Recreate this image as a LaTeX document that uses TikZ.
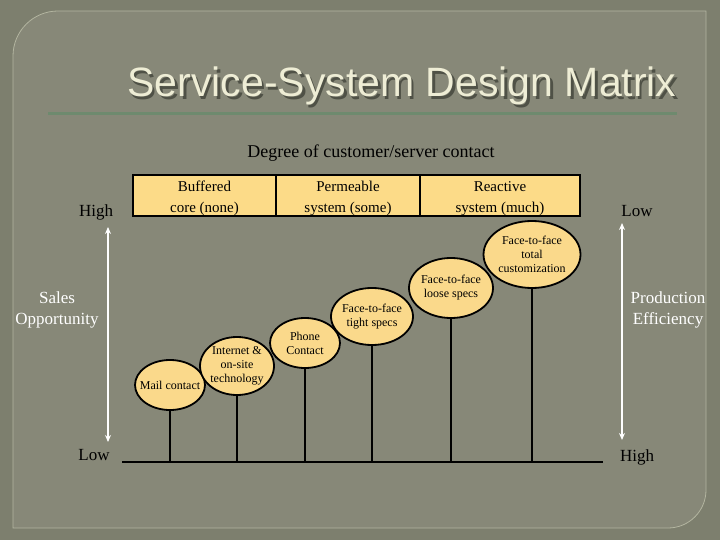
\documentclass[tikz,border=0pt]{standalone}
\usepackage{fontspec}
\setmainfont{Liberation Serif}
\newfontfamily\titlefont{Liberation Sans}
\usetikzlibrary{shapes.geometric,arrows.meta}
\definecolor{outerbg}{HTML}{7D7F6E}
\definecolor{panelbg}{HTML}{878878}
\definecolor{panelline}{HTML}{B3B5A0}
\definecolor{rulegreen}{HTML}{6E8A6E}
\definecolor{cream}{HTML}{EEEDD5}
\definecolor{shadowc}{HTML}{4F5146}
\definecolor{boxfill}{HTML}{FCDB88}
\definecolor{ovalfill}{HTML}{FAD98B}
\begin{document}
\begin{tikzpicture}[x=1pt,y=-1pt,
  cell/.style={draw=black,line width=2.2pt,fill=boxfill,rectangle,inner sep=0pt,minimum height=41pt},
  celltext/.style={align=center,font=\fontsize{15}{21}\selectfont,inner sep=0pt},
  oval/.style={draw=black,line width=1.8pt,fill=ovalfill,ellipse,inner sep=0pt},
  ovaltext/.style={align=center,font=\fontsize{12}{14}\selectfont,inner sep=0pt},
  stem/.style={draw=black,line width=2pt},
  axislabel/.style={font=\fontsize{17}{21}\selectfont,inner sep=0pt,anchor=base},
  sidelabel/.style={font=\fontsize{17}{21}\selectfont,text=white,align=center,inner sep=0pt},
  scalearrow/.style={draw=white,line width=1.6pt,{Stealth[length=7pt,width=6pt]}-{Stealth[length=7pt,width=6pt]}}
]
\useasboundingbox (0,0) rectangle (720,540);
\fill[outerbg] (0,0) rectangle (720,540);
\filldraw[fill=panelbg,draw=panelline,line width=0.8pt]
  (13,528) -- (13,56) arc[start angle=180,end angle=90,radius=45pt]
  -- (706,11) -- (706,490) arc[start angle=0,end angle=-90,radius=38pt] -- cycle;
\draw[rulegreen,line width=3pt] (48,114) -- (677,114);

% title
\node[font=\titlefont\fontsize{41}{45}\selectfont,text=shadowc,anchor=base,inner sep=0pt] (titleshadow) at (404.5,99.5) {Service-System Design Matrix};
\node[font=\titlefont\fontsize{41}{45}\selectfont,text=cream,anchor=base,inner sep=0pt] (title) at (402,97) {Service-System Design Matrix};

\node[font=\fontsize{18}{20}\selectfont,anchor=base,inner sep=0pt] (degree) at (371,158) {Degree of customer/server contact};

% top boxes
\node[cell,minimum width=143pt] (c1) at (204.5,195.5) {};
\node[cell,minimum width=144pt] (c2) at (348,195.5) {};
\node[cell,minimum width=160pt] (c3) at (500,195.5) {};
\node[celltext] (t1) at ([yshift=-3pt]c1.center) {Buffered\\core (none)};
\node[celltext] (t2) at ([yshift=-3pt]c2.center) {Permeable\\system (some)};
\node[celltext] (t3) at ([yshift=-3pt]c3.center) {Reactive\\system (much)};

% axis labels
\node[axislabel] (highL) at (96,216) {High};
\node[axislabel] (lowL) at (94,460) {Low};
\node[axislabel] (lowR) at (637,217) {Low};
\node[axislabel] (highR) at (637,461) {High};
\node[sidelabel] (sales) at (57,309.5) {Sales\\Opportunity};
\node[sidelabel] (prod) at (668,309.5) {Production\\Efficiency};

\coordinate (la1) at (108,227);
\coordinate (la2) at (108,442);
\coordinate (ra1) at (622,223);
\coordinate (ra2) at (622,440);
\draw[scalearrow] (la1) -- (la2);
\draw[scalearrow] (ra1) -- (ra2);

% baseline
\coordinate (baseL) at (122,462);
\coordinate (baseR) at (603,462);
\draw[stem] (baseL) -- (baseR);

% ellipses
\node[oval,minimum width=70pt,minimum height=50pt] (mail) at (170,385) {};
\node[oval,minimum width=74pt,minimum height=58pt] (inet) at (237,366) {};
\node[oval,minimum width=70pt,minimum height=50pt] (phone) at (305,343) {};
\node[oval,minimum width=82pt,minimum height=57pt] (tight) at (372,316.5) {};
\node[oval,minimum width=84pt,minimum height=60pt] (loose) at (451,288) {};
\node[oval,minimum width=97pt,minimum height=67pt] (total) at (532,254.5) {};

\node[ovaltext] (mailtext) at (mail.center) {Mail contact};
\node[ovaltext] (inettext) at (inet.center) {Internet \&\\on-site\\technology};
\node[ovaltext] (phonetext) at (phone.center) {Phone\\Contact};
\node[ovaltext] (tighttext) at (tight.center) {Face-to-face\\tight specs};
\node[ovaltext] (loosetext) at (loose.center) {Face-to-face\\loose specs};
\node[ovaltext] (totaltext) at (total.center) {Face-to-face\\total\\customization};

\foreach \e in {mail,inet,phone,tight,loose,total}{
  \draw[stem] (\e.south) -- (\e.south |- baseL);
}
\end{tikzpicture}
\end{document}
